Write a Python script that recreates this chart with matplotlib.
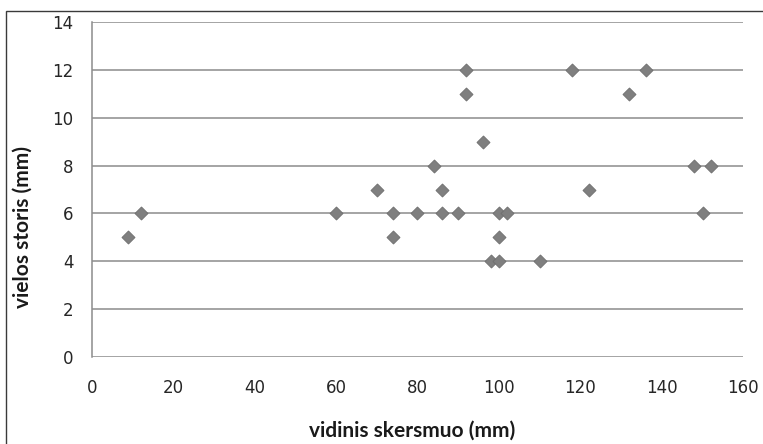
import matplotlib
matplotlib.use("Agg")
import matplotlib.pyplot as plt
from matplotlib.patches import Rectangle

# inner diameter (mm) and wire thickness (mm)
diameter = [9, 12, 60, 70, 74, 74, 80, 84, 86, 86, 90, 92, 92, 96,
            98, 100, 100, 100, 102, 110, 118, 122, 132, 136, 148, 150, 152]
thickness = [5, 6, 6, 7, 6, 5, 6, 8, 7, 6, 6, 12, 11, 9,
             4, 4, 5, 6, 6, 4, 12, 7, 11, 12, 8, 6, 8]

x_ticks = [0, 20, 40, 60, 80, 100, 120, 140, 160]
y_ticks = [0, 2, 4, 6, 8, 10, 12, 14]

W, H = 763, 444
fig = plt.figure(figsize=(W / 100, H / 100), dpi=100)
fig.patch.set_facecolor("white")

# outer chart frame
fig.patches.append(Rectangle((6 / W, -0.1), 1.2, 1 - 11 / H + 0.1,
                             transform=fig.transFigure, fill=False,
                             edgecolor="#3a3a3a", linewidth=1.0))

left, right = 91.7 / W, 743.3 / W
top, bottom = 1 - 22.3 / H, 1 - 356.7 / H
ax = fig.add_axes([left, bottom, right - left, top - bottom])

grid_color = "#8c8c8c"
for y in y_ticks:
    ax.axhline(y, color=grid_color, linewidth=1.1, zorder=1)

ax.scatter(diameter, thickness, marker="D", s=44, color="#7f7f7f",
           edgecolors="#6e6e6e", linewidths=0.6, zorder=3)

ax.set_xlim(0, 160)
ax.set_ylim(0, 14)
ax.set_xticks(x_ticks)
ax.set_yticks(y_ticks)
ax.tick_params(length=0, labelsize=12, labelcolor="#262626")
ax.tick_params(axis="x", pad=16)
ax.tick_params(axis="y", pad=13)

for side in ("top", "right", "bottom"):
    ax.spines[side].set_visible(False)
ax.spines["left"].set_color(grid_color)
ax.spines["left"].set_linewidth(1.1)

fig.text(412 / W, 1 - 431 / H, "vidinis skersmuo (mm)", ha="center",
         va="center", fontsize=15, fontweight="bold", family="Lato",
         color="#1a1a1a")
fig.text(23 / W, 1 - 227 / H, "vielos storis (mm)", ha="center",
         va="center", rotation=90, fontsize=15, fontweight="bold",
         family="Lato", color="#1a1a1a")

fig.savefig("out.png", dpi=100, facecolor="white")
